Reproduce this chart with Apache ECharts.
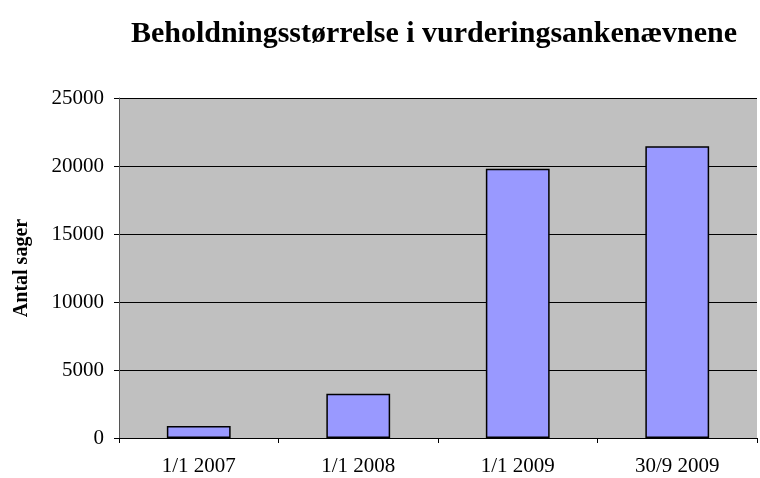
<!DOCTYPE html>
<html>
<head>
<meta charset="utf-8">
<script src="https://cdn.jsdelivr.net/npm/echarts@6/dist/echarts.min.js"></script>
<style>
  html, body { margin: 0; padding: 0; background: #fff; }
  #main { width: 760px; height: 478px; }
</style>
</head>
<body>
<div id="main"></div>
<script>
// data
var categories = ['1/1 2007', '1/1 2008', '1/1 2009', '30/9 2009']
var antalSager = [880, 3250, 19800, 21450]
var yTicks = { min: 0, max: 25000, interval: 5000 }

var serif = '"Liberation Serif", "DejaVu Serif", serif'

var chart = echarts.init(document.getElementById('main'))
var option = {
  animation: false,
  backgroundColor: '#ffffff',
  title: {
    text: 'Beholdningsstørrelse i vurderingsankenævnene',
    left: 429,
    top: 14,
    textAlign: 'center',
    textStyle: {
      fontFamily: serif,
      fontWeight: 'bold',
      fontSize: 30,
      color: '#000'
    }
  },
  grid: {
    left: 119,
    right: 3,
    top: 98,
    bottom: 40,
    show: true,
    backgroundColor: '#c0c0c0',
    borderWidth: 0
  },
  xAxis: {
    type: 'category',
    data: categories,
    boundaryGap: true,
    axisLine: { show: true, lineStyle: { color: '#000', width: 1 } },
    axisTick: { show: true, length: 5, alignWithLabel: false, lineStyle: { color: '#000' } },
    axisLabel: {
      margin: 18,
      fontFamily: serif,
      fontSize: 21,
      color: '#000'
    },
    splitLine: { show: false }
  },
  yAxis: {
    type: 'value',
    min: yTicks.min,
    max: yTicks.max,
    interval: yTicks.interval,
    name: 'Antal sager',
    nameLocation: 'middle',
    nameGap: 87,
    nameRotate: 90,
    nameTextStyle: {
      fontFamily: serif,
      fontWeight: 'bold',
      fontSize: 20,
      color: '#000'
    },
    axisLine: { show: true, lineStyle: { color: '#555', width: 1 } },
    axisTick: { show: true, length: 5, inside: false, lineStyle: { color: '#000' } },
    axisLabel: {
      margin: 15,
      fontFamily: serif,
      fontSize: 21,
      color: '#000',
      formatter: function (v) { return String(v) }
    },
    splitLine: { show: true, lineStyle: { color: '#000', width: 1 } }
  },
  series: [
    {
      name: 'Antal sager',
      type: 'bar',
      data: antalSager,
      barWidth: '40%',
      itemStyle: {
        color: '#9999ff',
        borderColor: '#000',
        borderWidth: 1.5
      }
    }
  ]
}
chart.setOption(option)
</script>
</body>
</html>
